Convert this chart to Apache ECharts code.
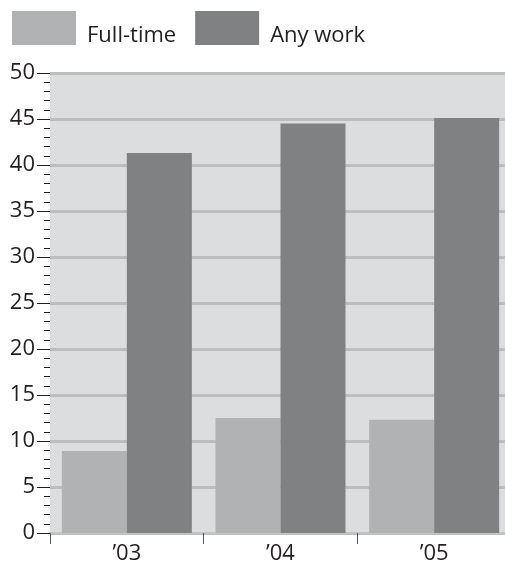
<!DOCTYPE html>
<html>
<head>
<meta charset="utf-8">
<script src="https://cdn.jsdelivr.net/npm/echarts@6/dist/echarts.min.js"></script>
<style>
  html, body { margin: 0; padding: 0; background: #fff; overflow: hidden; }
  #chart { width: 511px; height: 565px; }
</style>
</head>
<body>
<div id="chart"></div>
<script>
// years and the two series
var years = ['\u201903', '\u201904', '\u201905'];
var fullTime = [8.9, 12.5, 12.3];
var anyWork = [41.3, 44.5, 45.1];

var font = '"Open Sans", "Liberation Sans", sans-serif';
// plot runs a little past the right edge of the window, like the original
var chart = echarts.init(document.getElementById('chart'), null, { renderer: 'canvas' });

chart.setOption({
  animation: false,
  color: ['#b0b2b4', '#808183'],
  legend: {
    left: 7,
    top: 6,
    itemWidth: 64,
    itemHeight: 34,
    itemGap: 19,
    icon: 'rect',
    data: ['Full-time', 'Any work'],
    formatter: '{t|{name}}',
    textStyle: {
      fontFamily: font,
      fontSize: 22,
      color: '#231f20',
      rich: {
        t: {
          fontFamily: font,
          fontSize: 22,
          color: '#231f20',
          padding: [16, 0, 0, 6]
        }
      }
    }
  },
  grid: {
    left: 50,
    right: 0,
    top: 73,
    bottom: 31,
    show: true,
    backgroundColor: '#dcdddf',
    borderWidth: 0
  },
  xAxis: {
    type: 'category',
    data: years,
    axisLine: { lineStyle: { color: '#c3c4c6', width: 2 } },
    axisTick: { show: true, length: 11, lineStyle: { color: '#555', width: 1 } },
    axisLabel: { fontFamily: font, fontSize: 22, color: '#231f20', margin: 10 }
  },
  yAxis: {
    type: 'value',
    min: 0,
    max: 50,
    interval: 5,
    axisLine: { show: false },
    axisTick: { show: true, length: 13, lineStyle: { color: '#231f20', width: 1 } },
    minorTick: { show: true, splitNumber: 5, length: 6, lineStyle: { color: '#231f20', width: 1 } },
    axisLabel: { fontFamily: font, fontSize: 22, color: '#231f20', margin: 15 },
    splitLine: { show: true, lineStyle: { color: '#bcbdbf', width: 3 } }
  },
  series: [
    {
      name: 'Full-time',
      type: 'bar',
      data: fullTime,
      barWidth: 65,
      barGap: '0%'
    },
    {
      name: 'Any work',
      type: 'bar',
      data: anyWork,
      barWidth: 65,
      barGap: '0%'
    }
  ]
});
</script>
</body>
</html>
